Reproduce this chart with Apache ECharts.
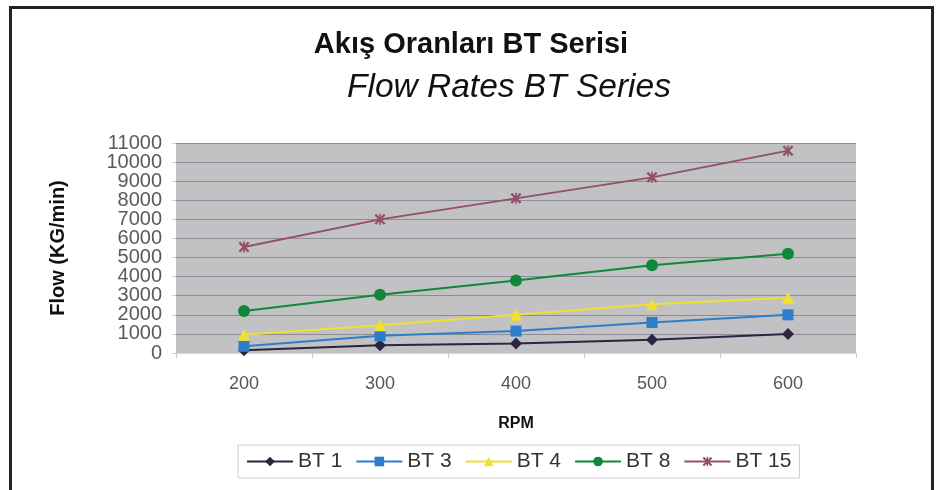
<!DOCTYPE html>
<html>
<head>
<meta charset="utf-8">
<script src="https://cdn.jsdelivr.net/npm/echarts@6/dist/echarts.min.js"></script>
<style>
  html, body { margin: 0; padding: 0; background: #fff; }
  #chart { width: 942px; height: 490px; }
</style>
</head>
<body>
<div id="chart"></div>
<script>
var rpm = ['200', '300', '400', '500', '600'];
var bt1 = [150, 400, 500, 700, 1000];
var bt3 = [350, 900, 1150, 1600, 2000];
var bt4 = [950, 1450, 2000, 2550, 2900];
var bt8 = [2200, 3050, 3800, 4600, 5200];
var bt15 = [5550, 7000, 8100, 9200, 10600];

var starPath = 'path://M0,3 L3,0 L10,7 L17,0 L20,3 L13,10 L20,17 L17,20 L10,13 L3,20 L0,17 L7,10 Z M8.5,0 L11.5,0 L11.5,20 L8.5,20 Z';

var chart = echarts.init(document.getElementById('chart'));

function line(name, data, color, symbol, size) {
    return {
        name: name,
        type: 'line',
        data: data,
        symbol: symbol,
        symbolSize: size,
        lineStyle: { color: color, width: 2 },
        itemStyle: { color: color },
        emphasis: { disabled: true }
    };
}

// labels are packed tightly, so even and odd thousands go on two stacked axes
function labelStyle(odd) {
    return {
        margin: 14,
        fontFamily: 'Liberation Sans',
        fontSize: 20,
        color: '#5a5a5a',
        showMinLabel: true,
        showMaxLabel: true,
        formatter: function (v) {
            return ((v / 1000) % 2 === 1) === odd ? String(v) : '';
        }
    };
}

var option = {
    animation: false,
    graphic: [{
        type: 'rect',
        shape: { x: 10.5, y: 7.5, width: 922, height: 500 },
        style: { fill: 'none', stroke: '#222', lineWidth: 3 }
    }],
    title: [{
        text: 'Akış Oranları BT Serisi',
        left: 'center',
        top: 25,
        textStyle: { fontFamily: 'Liberation Sans', fontWeight: 'bold', fontSize: 29, color: '#111' }
    }, {
        text: 'Flow Rates BT Series',
        left: 342,
        top: 66,
        textStyle: { fontFamily: 'Liberation Sans', fontStyle: 'italic', fontWeight: 'normal', fontSize: 33.5, color: '#111' }
    }],
    legend: {
        left: 238,
        top: 445,
        padding: [6, 8],
        borderColor: '#cfcfcf',
        borderWidth: 1,
        itemWidth: 46,
        itemHeight: 12,
        itemGap: 13,
        textStyle: { fontFamily: 'Liberation Sans', fontSize: 21, color: '#333' },
        data: ['BT 1', 'BT 3', 'BT 4', 'BT 8', 'BT 15']
    },
    grid: {
        left: 176,
        right: 86,
        top: 143,
        bottom: 137,
        show: true,
        backgroundColor: '#c2c2c4',
        borderWidth: 0
    },
    xAxis: {
        type: 'category',
        data: rpm,
        boundaryGap: true,
        name: 'RPM',
        nameLocation: 'middle',
        nameGap: 63,
        nameTextStyle: { fontFamily: 'Liberation Sans', fontWeight: 'bold', fontSize: 16, color: '#111' },
        axisLine: { lineStyle: { color: '#d8d8d8' } },
        axisTick: { show: true, length: 5, lineStyle: { color: '#cccccc' } },
        axisLabel: { margin: 22, fontFamily: 'Liberation Sans', fontSize: 18, color: '#555' }
    },
    yAxis: [{
        type: 'value',
        position: 'left',
        min: 0,
        max: 11000,
        interval: 1000,
        name: 'Flow (KG/min)',
        nameLocation: 'middle',
        nameGap: 108,
        nameTextStyle: { fontFamily: 'Liberation Sans', fontWeight: 'bold', fontSize: 20, color: '#111' },
        axisLine: { show: false },
        axisTick: { show: true, length: 4, lineStyle: { color: '#cccccc' } },
        axisLabel: labelStyle(false),
        splitLine: { lineStyle: { color: '#8d8b96', width: 1 } }
    }, {
        type: 'value',
        position: 'left',
        offset: 0,
        min: 0,
        max: 11000,
        interval: 1000,
        axisLine: { show: false },
        axisTick: { show: false },
        axisLabel: labelStyle(true),
        splitLine: { show: false }
    }],
    series: [
        line('BT 1', bt1, '#2a2540', 'diamond', 12),
        line('BT 3', bt3, '#2a7fc8', 'rect', 11),
        line('BT 4', bt4, '#f0e030', 'triangle', 12),
        line('BT 8', bt8, '#11873c', 'circle', 12),
        line('BT 15', bt15, '#93506a', starPath, 11)
    ]
};

chart.setOption(option);
</script>
</body>
</html>
